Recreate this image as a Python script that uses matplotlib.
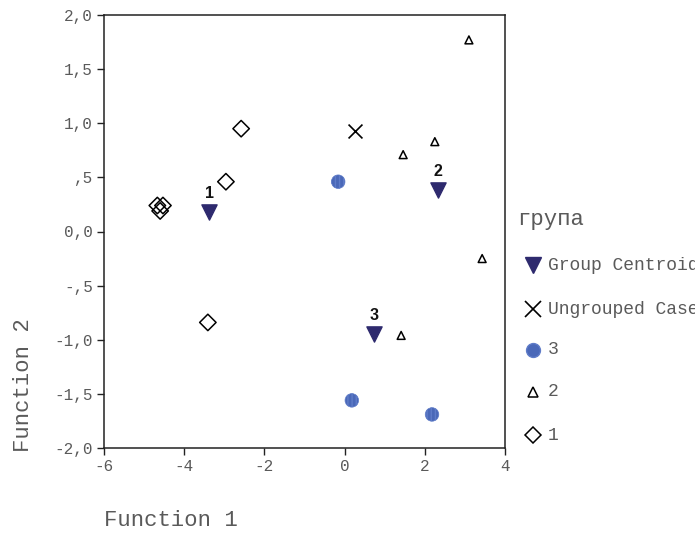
import matplotlib
matplotlib.use('Agg')
import matplotlib.pyplot as plt
from matplotlib.lines import Line2D
from matplotlib.ticker import FuncFormatter

# group 1 cases
g1_x = [-2.58, -2.96, -3.41, -4.67, -4.53, -4.60]
g1_y = [0.95, 0.46, -0.84, 0.24, 0.24, 0.19]
# group 2 cases
g2_x = [3.10, 2.25, 1.46, 3.43, 1.41]
g2_y = [1.77, 0.83, 0.71, -0.25, -0.96]
# group 3 cases
g3_x = [-0.16, 0.18, 2.18]
g3_y = [0.46, -1.56, -1.69]
# ungrouped
ung_x = [0.26]
ung_y = [0.93]
# centroids
cen_x = [-3.38, 2.33, 0.73]
cen_y = [0.18, 0.38, -0.95]
cen_labels = ['1', '2', '3']

legend_title = 'група'
legend_labels = ['Group Centroids', 'Ungrouped Cases', '3', '2', '1']

mono = 'Liberation Mono'
navy = '#2e2a6e'
blue = '#4a68b8'
grey = '#5a5a5a'

W, H = 695, 533
fig = plt.figure(figsize=(W / 100, H / 100), dpi=100)
ax = fig.add_axes([104 / W, 1 - 448 / H, 401 / W, 433 / H])

ax.scatter(g1_x, g1_y, marker='D', s=70, facecolors='none', edgecolors='black', linewidths=1.1, zorder=3)
ax.scatter(g2_x, g2_y, marker='^', s=32, facecolors='none', edgecolors='black', linewidths=1.1, zorder=3)
ax.scatter(g3_x, g3_y, marker='o', s=95, facecolors=blue, edgecolors='#5f7cc8', linewidths=0.5,
           hatch='||||', zorder=3)
ax.scatter(ung_x, ung_y, marker='x', s=100, color='black', linewidths=1.2, zorder=3)
ax.scatter(cen_x, cen_y, marker='v', s=120, color=navy, edgecolors=navy, zorder=4)
for x, y, lab in zip(cen_x, cen_y, cen_labels):
    ax.annotate(lab, (x, y), xytext=(0, 8), textcoords='offset points', ha='center', va='bottom',
                fontsize=11.5, fontweight='bold', family='Liberation Sans', color='#111111')

ax.set_xlim(-6, 4)
ax.set_ylim(-2, 2)
ax.set_xticks([-6, -4, -2, 0, 2, 4])
ax.set_yticks([-2, -1.5, -1, -0.5, 0, 0.5, 1, 1.5, 2])


def yfmt(v, pos):
    s = f'{v:.1f}'.replace('.', ',')
    if s == '0,5':
        return ',5'
    if s == '-0,5':
        return '-,5'
    return s


ax.yaxis.set_major_formatter(FuncFormatter(yfmt))
ax.xaxis.set_major_formatter(FuncFormatter(lambda v, p: f'{int(v)}'))
ax.tick_params(direction='out', length=5, width=1, labelsize=11.5, colors='#222222', pad=3)
for lab in ax.get_xticklabels() + ax.get_yticklabels():
    lab.set_family(mono)
    lab.set_color(grey)
for sp in ax.spines.values():
    sp.set_linewidth(1.1)
    sp.set_color('#222222')

fig.text(24 / W, 1 - 452 / H, 'Function 2', rotation=90, family=mono, fontsize=16, color=grey,
         ha='center', va='bottom')
fig.text(104 / W, 1 - 520 / H, 'Function 1', family=mono, fontsize=16, color=grey,
         ha='left', va='center')

# legend drawn by hand, outside the axes on the right (cut by the figure edge as in the original)
fig.text(517 / W, 1 - 220 / H, legend_title, family=mono, fontsize=16, color=grey, ha='left', va='center')
leg_styles = [
    dict(marker='v', color=navy, markersize=11),
    dict(marker='x', color='black', markersize=11, markeredgewidth=1.2),
    dict(marker='o', markerfacecolor=blue, markeredgecolor='#5f7cc8', markersize=10),
    dict(marker='^', markerfacecolor='none', markeredgecolor='black', markersize=6.5, markeredgewidth=1.1),
    dict(marker='D', markerfacecolor='none', markeredgecolor='black', markersize=8, markeredgewidth=1.1),
]
row_y = [265, 309, 350, 392, 435]
for yy, style, lab in zip(row_y, leg_styles, legend_labels):
    fy = 1 - yy / H
    fig.add_artist(Line2D([533 / W], [fy], linestyle='none', transform=fig.transFigure, **style))
    fig.text(548 / W, fy, lab, family=mono, fontsize=13, color=grey, ha='left', va='center')

fig.savefig('out.png', dpi=100)
